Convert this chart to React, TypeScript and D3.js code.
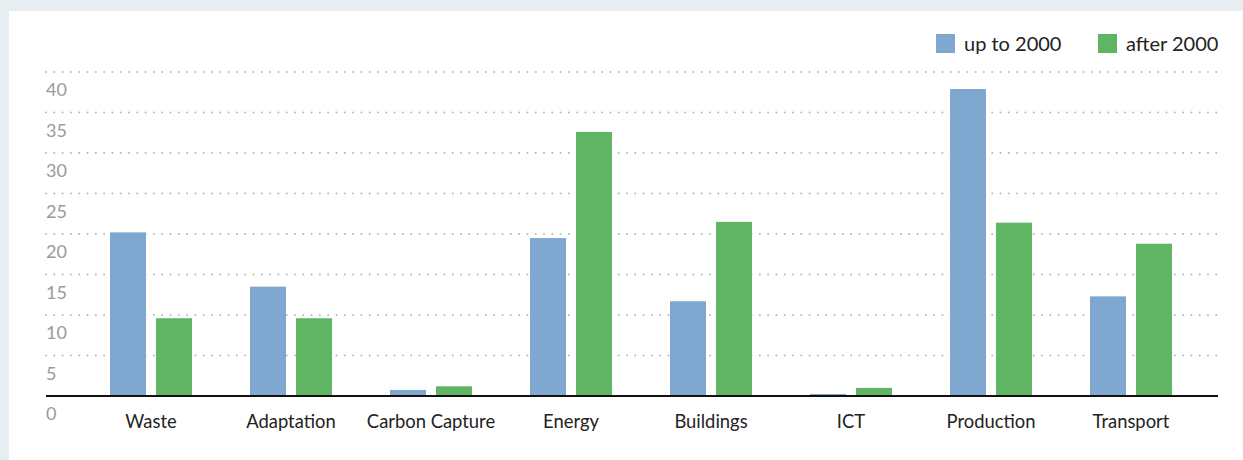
import React, { useEffect, useRef } from 'react'
import * as d3 from 'd3'

const categories = ['Waste', 'Adaptation', 'Carbon Capture', 'Energy', 'Buildings', 'ICT', 'Production', 'Transport']
const seriesNames = ['up to 2000', 'after 2000']
const upTo2000 = [20.2, 13.5, 0.75, 19.5, 11.7, 0.25, 37.9, 12.3]
const after2000 = [9.6, 9.6, 1.2, 32.6, 21.5, 1.0, 21.4, 18.8]
const yTicks = [0, 5, 10, 15, 20, 25, 30, 35, 40]
const colors = ['#7fa7d0', '#60b565']

const W = 1243
const H = 460

const App: React.FC = () => {
  const svgRef = useRef<SVGSVGElement>(null)

  useEffect(() => {
    if (!svgRef.current) return
    const svg = d3.select(svgRef.current)
    svg.selectAll('*').remove()

    const font = 'Lato, "Noto Sans", sans-serif'

    // background + panel
    svg.append('rect').attr('width', W).attr('height', H).attr('fill', '#e6eef2')
    svg.append('rect').attr('x', 9).attr('y', 11).attr('width', W - 9).attr('height', H - 11).attr('fill', '#fff')

    const left = 46
    const right = 1219
    const y = d3.scaleLinear().domain([0, 40]).range([396, 72])
    const x = d3.scaleBand().domain(categories).range([81, 1201])
    const barW = 36
    const gap = 10

    // gridlines
    const grid = svg.append('g')
    grid.selectAll('line')
      .data(yTicks.filter(d => d > 0))
      .enter()
      .append('line')
      .attr('x1', left)
      .attr('x2', right)
      .attr('y1', d => y(d))
      .attr('y2', d => y(d))
      .attr('stroke', '#b8b8b8')
      .attr('stroke-width', 2)
      .attr('stroke-linecap', 'round')
      .attr('stroke-dasharray', '0,8.3')

    // y labels
    svg.append('g').selectAll('text')
      .data(yTicks)
      .enter()
      .append('text')
      .attr('x', left)
      .attr('y', d => y(d) + 24)
      .style('font-family', font)
      .style('font-size', '18px')
      .style('fill', '#9a9a9a')
      .text(d => d)

    // bars
    const series = [upTo2000, after2000]
    series.forEach((vals, si) => {
      svg.append('g').selectAll('rect')
        .data(vals)
        .enter()
        .append('rect')
        .attr('x', (d, i) => (x(categories[i]) || 0) + x.bandwidth() / 2 - gap / 2 - barW + si * (barW + gap))
        .attr('y', d => y(d))
        .attr('width', barW)
        .attr('height', d => y(0) - y(d))
        .attr('fill', colors[si])
    })

    // baseline
    svg.append('line')
      .attr('x1', left)
      .attr('x2', 1218)
      .attr('y1', y(0))
      .attr('y2', y(0))
      .attr('stroke', '#111')
      .attr('stroke-width', 2)

    // x labels
    svg.append('g').selectAll('text')
      .data(categories)
      .enter()
      .append('text')
      .attr('x', d => (x(d) || 0) + x.bandwidth() / 2)
      .attr('y', 428)
      .attr('text-anchor', 'middle')
      .style('font-family', font)
      .style('font-size', '18.4px')
      .style('fill', '#222')
      .text(d => d)

    // legend
    const legendX = [936, 1098]
    const legend = svg.append('g')
    seriesNames.forEach((name, i) => {
      legend.append('rect')
        .attr('x', legendX[i])
        .attr('y', 34)
        .attr('width', 19)
        .attr('height', 19)
        .attr('fill', colors[i])
      legend.append('text')
        .attr('x', legendX[i] + 28)
        .attr('y', 51)
        .style('font-family', font)
        .style('font-size', '20px')
        .style('fill', '#222')
        .text(name)
    })
  }, [])

  return (
    <div style={{ position: 'absolute', left: 0, top: 0 }}>
      <svg ref={svgRef} width={W} height={H} style={{ display: 'block' }}></svg>
    </div>
  )
}

export default App
